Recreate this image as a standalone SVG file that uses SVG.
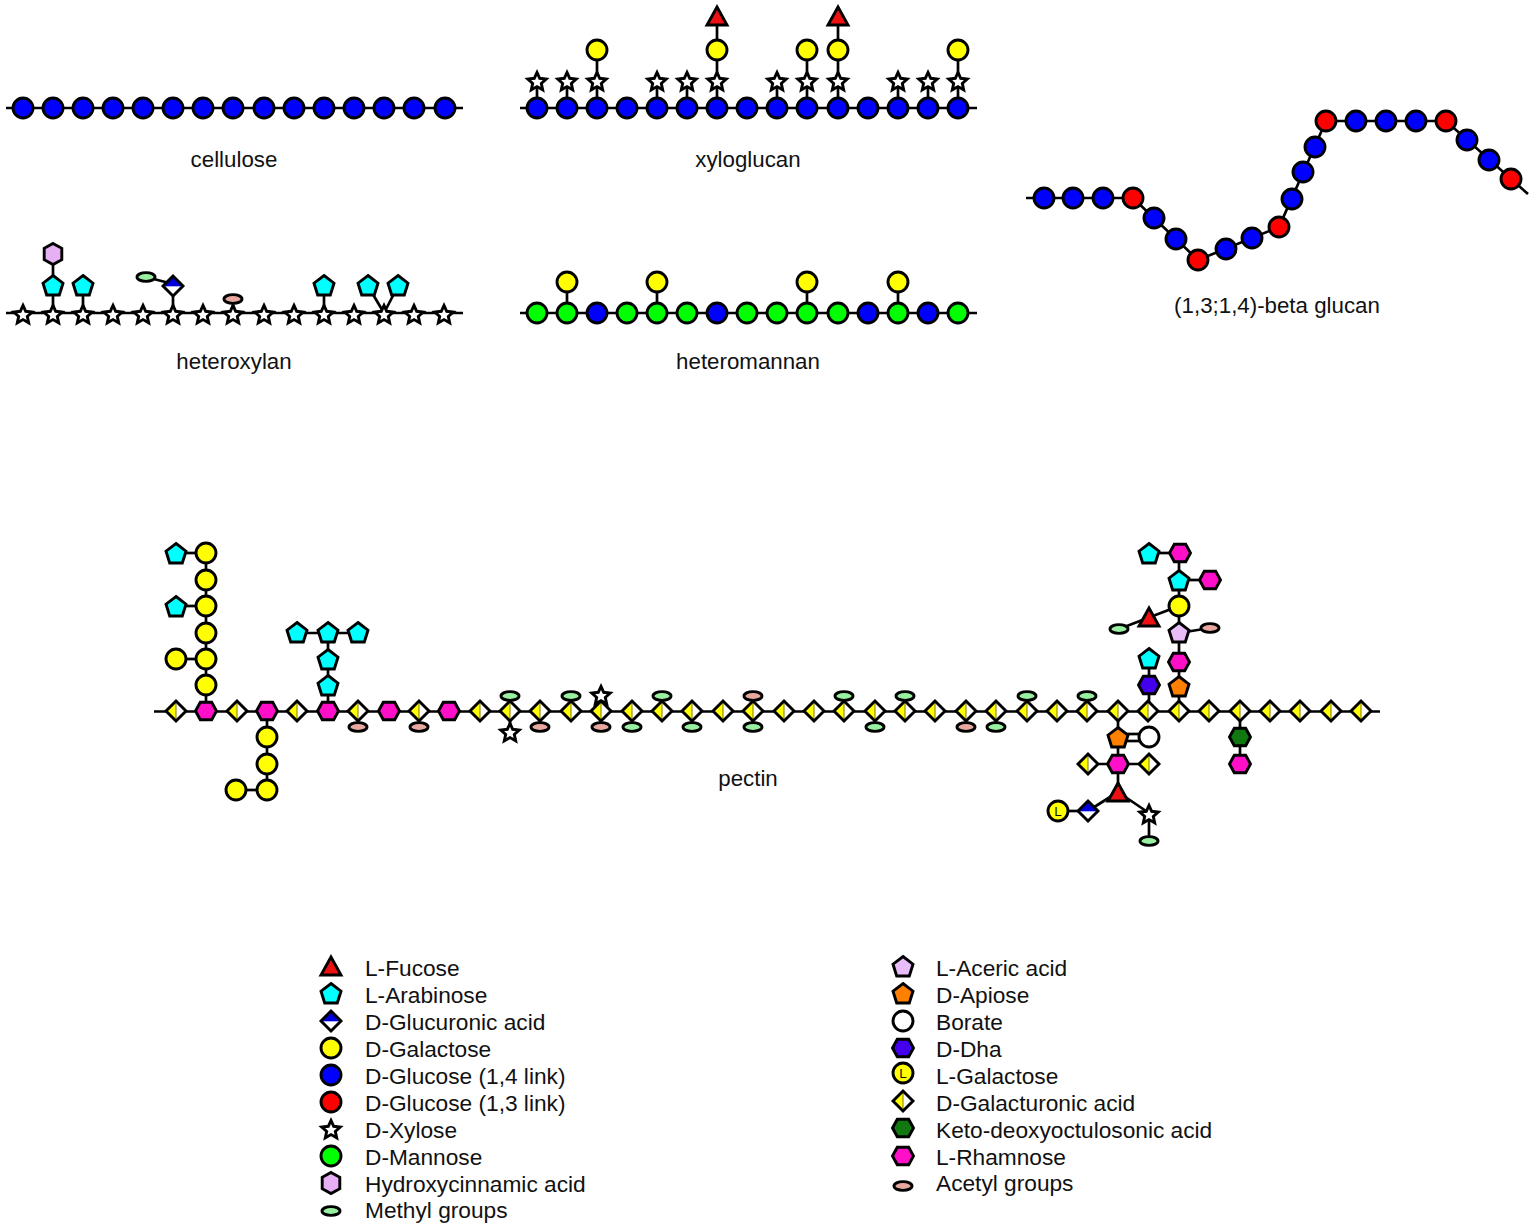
<svg xmlns="http://www.w3.org/2000/svg" width="1535" height="1232" viewBox="0 0 1535 1232">
<style>
text{font-family:"Liberation Sans",Arial,sans-serif;font-size:22.7px;fill:#111}
#labels text{font-size:22.3px}
.m{text-anchor:middle}
.s{stroke:#000;stroke-width:2.9;stroke-linejoin:miter}
#conn line,#conn polyline{stroke:#000;stroke-width:2.7}
</style>
<defs>
<circle id="glc" class="s" r="10" fill="#0000ff"/>
<circle id="glc3" class="s" r="10" fill="#ff0000"/>
<circle id="gal" class="s" r="10" fill="#ffff00"/>
<circle id="man" class="s" r="10" fill="#00ff00"/>
<circle id="bor" class="s" r="10" fill="#fff"/>
<g id="lgal"><circle class="s" r="10" fill="#ffff00"/><text class="m" y="4.8" style="font-size:13.5px">L</text></g>
<polygon id="ara" class="s" points="0,-10.5 10,-2.8 6.3,9 -6.3,9 -10,-2.8" fill="#00ffff"/>
<polygon id="ace" class="s" points="0,-10.5 10,-2.8 6.3,9 -6.3,9 -10,-2.8" fill="#e8bcf8"/>
<polygon id="api" class="s" points="0,-10.5 10,-2.8 6.3,9 -6.3,9 -10,-2.8" fill="#ff8000"/>
<polygon id="rha" class="s" points="-10.5,0 -5.7,-8.8 5.7,-8.8 10.5,0 5.7,8.8 -5.7,8.8" fill="#ff10c8"/>
<polygon id="dha" class="s" points="-10.5,0 -5.7,-8.8 5.7,-8.8 10.5,0 5.7,8.8 -5.7,8.8" fill="#4400ee"/>
<polygon id="kdo" class="s" points="-10.5,0 -5.7,-8.8 5.7,-8.8 10.5,0 5.7,8.8 -5.7,8.8" fill="#117711"/>
<polygon id="hca" class="s" points="0,-10.5 8.8,-5.7 8.8,5.7 0,10.5 -8.8,5.7 -8.8,-5.7" fill="#e8b0f4"/>
<polygon id="fuc" class="s" points="0,-9 10,9 -10,9" fill="#ee1111"/>
<polygon id="xyl" class="s" points="0,-9.6 2.7,-3.7 9.2,-3 4.3,1.4 5.7,7.8 0,4.6 -5.7,7.8 -4.3,1.4 -9.2,-3 -2.7,-3.7" fill="#fff"/>
<ellipse id="met" class="s" rx="9" ry="4.4" fill="#98f0a0"/>
<ellipse id="acy" class="s" rx="9" ry="4.4" fill="#e8a8a0"/>
<g id="gala"><polygon points="0,-10 10,0 0,10" fill="#fff"/><polygon points="0,-10 -10,0 0,10" fill="#ffff00"/><line y1="-9" y2="9" stroke="#887700" stroke-width="1"/><polygon class="s" points="-10,0 0,-10 10,0 0,10" fill="none"/></g>
<g id="glca"><polygon points="-10,0 10,0 0,10" fill="#fff"/><polygon points="-10,0 10,0 0,-10" fill="#0000dd"/><line x1="-8" x2="8" y1="0.5" y2="0.5" stroke="#aab0ff" stroke-width="1"/><polygon class="s" points="-10,0 0,-10 10,0 0,10" fill="none"/></g>
</defs>
<rect width="1535" height="1232" fill="#fff"/>
<g id="conn">
<line x1="6" y1="108" x2="463" y2="108"/>
<line x1="520" y1="108" x2="977" y2="108"/>
<line x1="6" y1="313" x2="463" y2="313"/>
<line x1="520" y1="313" x2="977" y2="313"/>
<line x1="154" y1="711.5" x2="1380" y2="711.5"/>
<line x1="537" y1="108" x2="537" y2="83"/>
<line x1="567" y1="108" x2="567" y2="83"/>
<line x1="597" y1="108" x2="597" y2="50"/>
<line x1="657" y1="108" x2="657" y2="83"/>
<line x1="687" y1="108" x2="687" y2="83"/>
<line x1="717" y1="108" x2="717" y2="16"/>
<line x1="777" y1="108" x2="777" y2="83"/>
<line x1="807" y1="108" x2="807" y2="50"/>
<line x1="838" y1="108" x2="838" y2="16"/>
<line x1="898" y1="108" x2="898" y2="83"/>
<line x1="928" y1="108" x2="928" y2="83"/>
<line x1="958" y1="108" x2="958" y2="50"/>
<line x1="53" y1="313" x2="53" y2="254"/>
<line x1="83" y1="313" x2="83" y2="286"/>
<line x1="173" y1="313" x2="173" y2="286"/>
<line x1="146" y1="277" x2="173" y2="284"/>
<line x1="233" y1="313" x2="233" y2="299"/>
<line x1="324" y1="313" x2="324" y2="286"/>
<line x1="368" y1="286" x2="384" y2="313"/>
<line x1="398" y1="286" x2="384" y2="313"/>
<line x1="567" y1="313" x2="567" y2="282"/>
<line x1="657" y1="313" x2="657" y2="282"/>
<line x1="807" y1="313" x2="807" y2="282"/>
<line x1="898" y1="313" x2="898" y2="282"/>
<polyline points="1026,198 1133,198 1198,260 1279,227 1326,121 1446,121 1528,194" fill="none"/>
<line x1="206" y1="711" x2="206" y2="553"/>
<line x1="176" y1="553" x2="206" y2="553"/>
<line x1="176" y1="606" x2="206" y2="606"/>
<line x1="176" y1="659" x2="206" y2="659"/>
<line x1="267" y1="711" x2="267" y2="790"/>
<line x1="236" y1="790" x2="267" y2="790"/>
<line x1="328" y1="711" x2="328" y2="633"/>
<line x1="297" y1="633" x2="358" y2="633"/>
<line x1="358" y1="711" x2="358" y2="727"/>
<line x1="419" y1="711" x2="419" y2="727"/>
<line x1="510" y1="696" x2="510" y2="733"/>
<line x1="540" y1="711" x2="540" y2="727"/>
<line x1="571" y1="711" x2="571" y2="696"/>
<line x1="601" y1="696" x2="601" y2="727"/>
<line x1="632" y1="711" x2="632" y2="727"/>
<line x1="662" y1="711" x2="662" y2="696"/>
<line x1="692" y1="711" x2="692" y2="727"/>
<line x1="753" y1="696" x2="753" y2="727"/>
<line x1="844" y1="711" x2="844" y2="696"/>
<line x1="875" y1="711" x2="875" y2="727"/>
<line x1="905" y1="711" x2="905" y2="696"/>
<line x1="966" y1="711" x2="966" y2="727"/>
<line x1="996" y1="711" x2="996" y2="727"/>
<line x1="1027" y1="711" x2="1027" y2="696"/>
<line x1="1087" y1="711" x2="1087" y2="696"/>
<line x1="1149" y1="711" x2="1149" y2="659"/>
<line x1="1179" y1="711" x2="1179" y2="553"/>
<line x1="1149" y1="553" x2="1180" y2="553"/>
<line x1="1179" y1="580" x2="1210" y2="580"/>
<line x1="1179" y1="606" x2="1119" y2="629"/>
<line x1="1179" y1="633" x2="1210" y2="628"/>
<line x1="1240" y1="711" x2="1240" y2="764"/>
<line x1="1118" y1="711" x2="1118" y2="792"/>
<line x1="1118" y1="734" x2="1149" y2="734"/>
<line x1="1118" y1="741" x2="1149" y2="741"/>
<line x1="1088" y1="764" x2="1149" y2="764"/>
<line x1="1118" y1="792" x2="1088" y2="811"/>
<line x1="1058" y1="811" x2="1088" y2="811"/>
<line x1="1118" y1="792" x2="1149" y2="813"/>
<line x1="1149" y1="813" x2="1149" y2="841"/>
</g>
<g id="cellulose"><use href="#glc" x="23" y="108"/><use href="#glc" x="53" y="108"/><use href="#glc" x="83" y="108"/><use href="#glc" x="113" y="108"/><use href="#glc" x="143" y="108"/><use href="#glc" x="173" y="108"/><use href="#glc" x="203" y="108"/><use href="#glc" x="233" y="108"/><use href="#glc" x="264" y="108"/><use href="#glc" x="294" y="108"/><use href="#glc" x="324" y="108"/><use href="#glc" x="354" y="108"/><use href="#glc" x="384" y="108"/><use href="#glc" x="414" y="108"/><use href="#glc" x="445" y="108"/></g>
<g id="xyloglucan"><use href="#glc" x="537" y="108"/><use href="#glc" x="567" y="108"/><use href="#glc" x="597" y="108"/><use href="#glc" x="627" y="108"/><use href="#glc" x="657" y="108"/><use href="#glc" x="687" y="108"/><use href="#glc" x="717" y="108"/><use href="#glc" x="747" y="108"/><use href="#glc" x="777" y="108"/><use href="#glc" x="807" y="108"/><use href="#glc" x="838" y="108"/><use href="#glc" x="868" y="108"/><use href="#glc" x="898" y="108"/><use href="#glc" x="928" y="108"/><use href="#glc" x="958" y="108"/>
<use href="#xyl" x="537" y="82"/><use href="#xyl" x="567" y="82"/><use href="#xyl" x="597" y="82"/><use href="#xyl" x="657" y="82"/><use href="#xyl" x="687" y="82"/><use href="#xyl" x="717" y="82"/><use href="#xyl" x="777" y="82"/><use href="#xyl" x="807" y="82"/><use href="#xyl" x="838" y="82"/><use href="#xyl" x="898" y="82"/><use href="#xyl" x="928" y="82"/><use href="#xyl" x="958" y="82"/>
<use href="#gal" x="597" y="50"/><use href="#gal" x="717" y="50"/><use href="#gal" x="807" y="50"/><use href="#gal" x="838" y="50"/><use href="#gal" x="958" y="50"/>
<use href="#fuc" x="717" y="16"/><use href="#fuc" x="838" y="16"/></g>
<g id="heteroxylan"><use href="#xyl" x="23" y="315"/><use href="#xyl" x="53" y="315"/><use href="#xyl" x="83" y="315"/><use href="#xyl" x="113" y="315"/><use href="#xyl" x="143" y="315"/><use href="#xyl" x="173" y="315"/><use href="#xyl" x="203" y="315"/><use href="#xyl" x="233" y="315"/><use href="#xyl" x="264" y="315"/><use href="#xyl" x="294" y="315"/><use href="#xyl" x="324" y="315"/><use href="#xyl" x="354" y="315"/><use href="#xyl" x="384" y="315"/><use href="#xyl" x="414" y="315"/><use href="#xyl" x="444" y="315"/>
<use href="#hca" x="53" y="254"/><use href="#ara" x="53" y="286"/><use href="#ara" x="83" y="286"/><use href="#met" x="146" y="277"/><use href="#glca" x="173" y="286"/><use href="#acy" x="233" y="299"/><use href="#ara" x="324" y="286"/><use href="#ara" x="368" y="286"/><use href="#ara" x="398" y="286"/></g>
<g id="heteromannan"><use href="#man" x="537" y="313"/><use href="#man" x="567" y="313"/><use href="#glc" x="597" y="313"/><use href="#man" x="627" y="313"/><use href="#man" x="657" y="313"/><use href="#man" x="687" y="313"/><use href="#glc" x="717" y="313"/><use href="#man" x="747" y="313"/><use href="#man" x="777" y="313"/><use href="#man" x="807" y="313"/><use href="#man" x="838" y="313"/><use href="#glc" x="868" y="313"/><use href="#man" x="898" y="313"/><use href="#glc" x="928" y="313"/><use href="#man" x="958" y="313"/>
<use href="#gal" x="567" y="282"/><use href="#gal" x="657" y="282"/><use href="#gal" x="807" y="282"/><use href="#gal" x="898" y="282"/></g>
<g id="betaglucan"><use href="#glc" x="1044" y="198"/><use href="#glc" x="1073" y="198"/><use href="#glc" x="1103" y="198"/><use href="#glc3" x="1133" y="198"/><use href="#glc" x="1154" y="218"/><use href="#glc" x="1176" y="239"/><use href="#glc3" x="1198" y="260"/><use href="#glc" x="1226" y="249"/><use href="#glc" x="1252" y="238"/><use href="#glc3" x="1279" y="227"/><use href="#glc" x="1292" y="199"/><use href="#glc" x="1303" y="172"/><use href="#glc" x="1315" y="147"/><use href="#glc3" x="1326" y="121"/><use href="#glc" x="1356" y="121"/><use href="#glc" x="1386" y="121"/><use href="#glc" x="1416" y="121"/><use href="#glc3" x="1446" y="121"/><use href="#glc" x="1467" y="140"/><use href="#glc" x="1489" y="160"/><use href="#glc3" x="1511" y="179"/></g>
<g id="pectin-backbone"><use href="#gala" x="176" y="711"/><use href="#rha" x="206" y="711"/><use href="#gala" x="237" y="711"/><use href="#rha" x="267" y="711"/><use href="#gala" x="297" y="711"/><use href="#rha" x="328" y="711"/><use href="#gala" x="358" y="711"/><use href="#rha" x="389" y="711"/><use href="#gala" x="419" y="711"/><use href="#rha" x="449" y="711"/><use href="#gala" x="480" y="711"/><use href="#gala" x="510" y="711"/><use href="#gala" x="540" y="711"/><use href="#gala" x="571" y="711"/><use href="#gala" x="601" y="711"/><use href="#gala" x="632" y="711"/><use href="#gala" x="662" y="711"/><use href="#gala" x="692" y="711"/><use href="#gala" x="723" y="711"/><use href="#gala" x="753" y="711"/><use href="#gala" x="784" y="711"/><use href="#gala" x="814" y="711"/><use href="#gala" x="844" y="711"/><use href="#gala" x="875" y="711"/><use href="#gala" x="905" y="711"/><use href="#gala" x="935" y="711"/><use href="#gala" x="966" y="711"/><use href="#gala" x="996" y="711"/><use href="#gala" x="1027" y="711"/><use href="#gala" x="1057" y="711"/><use href="#gala" x="1087" y="711"/><use href="#gala" x="1118" y="711"/><use href="#gala" x="1148" y="711"/><use href="#gala" x="1179" y="711"/><use href="#gala" x="1209" y="711"/><use href="#gala" x="1240" y="711"/><use href="#gala" x="1270" y="711"/><use href="#gala" x="1300" y="711"/><use href="#gala" x="1331" y="711"/><use href="#gala" x="1361" y="711"/></g>
<g id="pectin-left"><use href="#gal" x="206" y="685"/><use href="#gal" x="206" y="659"/><use href="#gal" x="206" y="633"/><use href="#gal" x="206" y="606"/><use href="#gal" x="206" y="580"/><use href="#gal" x="206" y="553"/><use href="#gal" x="176" y="659"/><use href="#ara" x="176" y="607"/><use href="#ara" x="176" y="554"/>
<use href="#gal" x="267" y="737"/><use href="#gal" x="267" y="764"/><use href="#gal" x="267" y="790"/><use href="#gal" x="236" y="790"/>
<use href="#ara" x="328" y="686"/><use href="#ara" x="328" y="660"/><use href="#ara" x="328" y="633"/><use href="#ara" x="297" y="633"/><use href="#ara" x="358" y="633"/></g>
<g id="pectin-substituents"><use href="#acy" x="358" y="727"/><use href="#acy" x="419" y="727"/><use href="#met" x="510" y="696"/><use href="#xyl" x="510" y="733"/><use href="#acy" x="540" y="727"/><use href="#met" x="571" y="696"/><use href="#xyl" x="601" y="696"/><use href="#acy" x="601" y="727"/><use href="#met" x="632" y="727"/><use href="#met" x="662" y="696"/><use href="#met" x="692" y="727"/><use href="#acy" x="753" y="696"/><use href="#met" x="753" y="727"/><use href="#met" x="844" y="696"/><use href="#met" x="875" y="727"/><use href="#met" x="905" y="696"/><use href="#acy" x="966" y="727"/><use href="#met" x="996" y="727"/><use href="#met" x="1027" y="696"/><use href="#met" x="1087" y="696"/></g>
<g id="pectin-right"><use href="#ara" x="1149" y="554"/><use href="#rha" x="1180" y="553"/><use href="#ara" x="1179" y="581"/><use href="#rha" x="1210" y="580"/><use href="#gal" x="1179" y="606"/><use href="#fuc" x="1149" y="617"/><use href="#met" x="1119" y="629"/><use href="#ace" x="1179" y="633"/><use href="#acy" x="1210" y="628"/><use href="#rha" x="1179" y="662"/><use href="#api" x="1179" y="687"/><use href="#ara" x="1149" y="659"/><use href="#dha" x="1149" y="685"/>
<use href="#api" x="1118" y="738"/><use href="#bor" x="1149" y="737"/><use href="#rha" x="1118" y="764"/><use href="#gala" x="1088" y="764"/><use href="#gala" x="1149" y="764"/><use href="#fuc" x="1118" y="792"/><use href="#glca" x="1088" y="811"/><use href="#lgal" x="1058" y="811"/><use href="#xyl" x="1149" y="815"/><use href="#met" x="1149" y="841"/>
<use href="#kdo" x="1240" y="737"/><use href="#rha" x="1240" y="764"/></g>
<g id="labels"><text class="m" x="234" y="167">cellulose</text><text class="m" x="748" y="167">xyloglucan</text><text class="m" x="234" y="369">heteroxylan</text><text class="m" x="748" y="369">heteromannan</text><text class="m" x="1277" y="313">(1,3;1,4)-beta glucan</text><text class="m" x="748" y="786">pectin</text></g>
<g id="legend-left"><use href="#fuc" x="331" y="966"/><text x="365" y="976">L-Fucose</text><use href="#ara" x="331" y="994"/><text x="365" y="1003">L-Arabinose</text><use href="#glca" x="331" y="1021"/><text x="365" y="1030">D-Glucuronic acid</text><use href="#gal" x="331" y="1048"/><text x="365" y="1057">D-Galactose</text><use href="#glc" x="331" y="1075"/><text x="365" y="1084">D-Glucose (1,4 link)</text><use href="#glc3" x="331" y="1102"/><text x="365" y="1111">D-Glucose (1,3 link)</text><use href="#xyl" x="331" y="1130"/><text x="365" y="1138">D-Xylose</text><use href="#man" x="331" y="1156"/><text x="365" y="1165">D-Mannose</text><use href="#hca" x="331" y="1183"/><text x="365" y="1192">Hydroxycinnamic acid</text><use href="#met" x="331" y="1211"/><text x="365" y="1218">Methyl groups</text></g>
<g id="legend-right"><use href="#ace" x="903" y="967"/><text x="936" y="976">L-Aceric acid</text><use href="#api" x="903" y="994"/><text x="936" y="1003">D-Apiose</text><use href="#bor" x="903" y="1021"/><text x="936" y="1030">Borate</text><use href="#dha" x="903" y="1048"/><text x="936" y="1057">D-Dha</text><use href="#lgal" x="903" y="1073"/><text x="936" y="1084">L-Galactose</text><use href="#gala" x="903" y="1101"/><text x="936" y="1111">D-Galacturonic acid</text><use href="#kdo" x="903" y="1128"/><text x="936" y="1138">Keto-deoxyoctulosonic acid</text><use href="#rha" x="903" y="1156"/><text x="936" y="1165">L-Rhamnose</text><use href="#acy" x="903" y="1186"/><text x="936" y="1191">Acetyl groups</text></g>
</svg>
